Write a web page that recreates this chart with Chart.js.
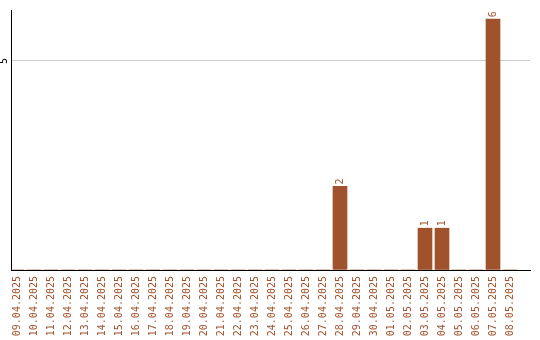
<!DOCTYPE html>
<html>
<head>
<meta charset="utf-8">
<script src="https://cdn.jsdelivr.net/npm/chart.js@4/dist/chart.umd.min.js"></script>
<style>
  html, body { margin: 0; padding: 0; background: #fff; }
  #wrap { width: 540px; height: 340px; }
</style>
</head>
<body>
<div id="wrap"><canvas id="c" width="540" height="340"></canvas></div>
<script>
// Daily counts, 09.04.2025 – 08.05.2025
const dates = [
  '09.04.2025','10.04.2025','11.04.2025','12.04.2025','13.04.2025','14.04.2025',
  '15.04.2025','16.04.2025','17.04.2025','18.04.2025','19.04.2025','20.04.2025',
  '21.04.2025','22.04.2025','23.04.2025','24.04.2025','25.04.2025','26.04.2025',
  '27.04.2025','28.04.2025','29.04.2025','30.04.2025','01.05.2025','02.05.2025',
  '03.05.2025','04.05.2025','05.05.2025','06.05.2025','07.05.2025','08.05.2025'
];
const counts = [
  0,0,0,0,0,0,0,0,0,0,
  0,0,0,0,0,0,0,0,0,2,
  0,0,0,0,1,1,0,0,6,0
];
const yTicks = [5];

const BROWN = '#A0522D';
const FONT = '"DejaVu Sans Mono", monospace';

// rotated value labels above bars and the rotated y tick label
const labelsPlugin = {
  id: 'rotatedLabels',
  afterDatasetsDraw(chart) {
    const ctx = chart.ctx;
    const meta = chart.getDatasetMeta(0);
    ctx.save();
    ctx.font = '10px ' + FONT;
    ctx.fillStyle = BROWN;
    ctx.textAlign = 'left';
    ctx.textBaseline = 'middle';
    meta.data.forEach((bar, i) => {
      const v = counts[i];
      if (!v) return;
      ctx.save();
      ctx.translate(bar.x, bar.y - 2);
      ctx.rotate(-Math.PI / 2);
      ctx.fillText(String(v), 0, 0);
      ctx.restore();
    });
    const ys = chart.scales.y;
    ctx.fillStyle = '#000';
    ctx.textAlign = 'center';
    yTicks.forEach(t => {
      ctx.save();
      ctx.translate(4, ys.getPixelForValue(t));
      ctx.rotate(-Math.PI / 2);
      ctx.fillText(String(t), 0, 0);
      ctx.restore();
    });
    ctx.restore();
  }
};

new Chart(document.getElementById('c'), {
  type: 'bar',
  data: {
    datasets: [{
      data: dates.map((d, i) => ({ x: i, y: counts[i] })),
      backgroundColor: BROWN,
      borderWidth: 0,
      barThickness: 14
    }]
  },
  options: {
    responsive: false,
    animation: false,
    devicePixelRatio: 1,
    layout: { padding: { top: 10, right: 10, left: 0, bottom: 0 } },
    plugins: { legend: { display: false }, tooltip: { enabled: false } },
    scales: {
      x: {
        type: 'linear',
        offset: false,
        min: -6 / 17,
        max: 513 / 17,
        afterBuildTicks(scale) {
          scale.ticks = dates.map((d, i) => ({ value: i }));
        },
        afterFit(scale) {
          scale.height = 70;
          scale.paddingLeft = 0;
          scale.paddingRight = 0;
        },
        grid: { display: false, drawTicks: false, offset: false },
        border: { display: true, color: '#000', width: 1 },
        ticks: {
          autoSkip: false,
          minRotation: 90,
          maxRotation: 90,
          padding: 6,
          color: BROWN,
          font: { family: FONT, size: 10 },
          callback: (v) => dates[v]
        }
      },
      y: {
        min: 0,
        max: 6.22,
        afterBuildTicks(scale) {
          scale.ticks = [0].concat(yTicks).map(v => ({ value: v }));
        },
        afterFit(scale) { scale.width = 11; },
        ticks: { display: false },
        grid: { color: '#cccccc', drawTicks: false, lineWidth: 1 },
        border: { display: true, color: '#000', width: 1 }
      }
    }
  },
  plugins: [labelsPlugin]
});
</script>
</body>
</html>
